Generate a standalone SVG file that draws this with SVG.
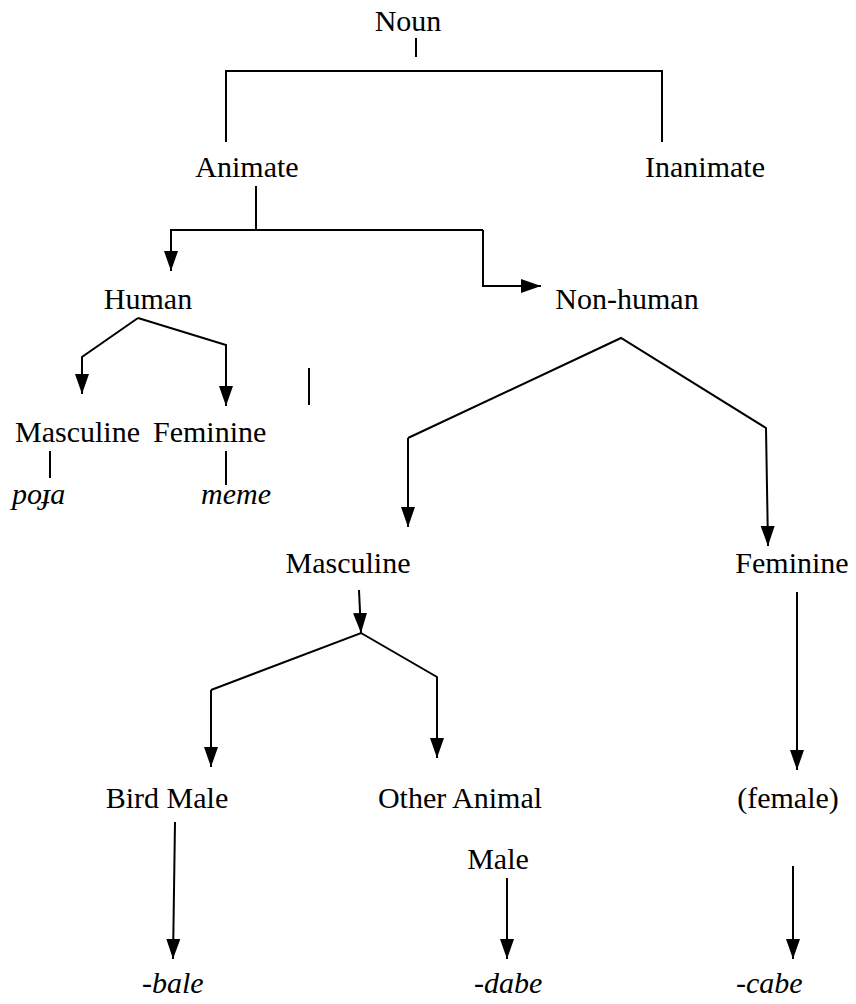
<svg xmlns="http://www.w3.org/2000/svg" width="856" height="1004" viewBox="0 0 856 1004">
<defs>
<marker id="ah" markerUnits="userSpaceOnUse" markerWidth="22" markerHeight="16" refX="20" refY="7" orient="auto">
<path d="M0,0 L20,7 L0,14 Z" fill="#000"/>
</marker>
</defs>
<rect width="856" height="1004" fill="#fff"/>
<g id="connectors" fill="none" stroke="#000" stroke-width="2">
<path d="M416,38 V57"/>
<path d="M226,142 V71 H662 V142"/>
<path d="M256,186 V230"/>
<path d="M483,230 H171 V271" marker-end="url(#ah)"/>
<path d="M483,230 V286 H541" marker-end="url(#ah)"/>
<path d="M138,318 L82,357 V394" marker-end="url(#ah)"/>
<path d="M138,318 L226,345 V406" marker-end="url(#ah)"/>
<path d="M309,368 V405"/>
<path d="M50,451 V478"/>
<path d="M226,451 V485"/>
<path d="M408,438 L621,338 L766,428 L768,546" marker-end="url(#ah)"/>
<path d="M408,438 V527" marker-end="url(#ah)"/>
<path d="M359,590 L361,633" marker-end="url(#ah)"/>
<path d="M211,690 L361,633 L437,677 V758" marker-end="url(#ah)"/>
<path d="M211,690 V767" marker-end="url(#ah)"/>
<path d="M797,592 V770" marker-end="url(#ah)"/>
<path d="M175,822 L173,959" marker-end="url(#ah)"/>
<path d="M507,878 V959" marker-end="url(#ah)"/>
<path d="M793,866 V959" marker-end="url(#ah)"/>
</g>
<g id="noun"><text x="408" y="31" font-family="Liberation Serif" font-size="30" text-anchor="middle">Noun</text></g>
<g id="animate"><text x="247" y="177" font-family="Liberation Serif" font-size="30" text-anchor="middle">Animate</text></g>
<g id="inanimate"><text x="705" y="177" font-family="Liberation Serif" font-size="30" text-anchor="middle">Inanimate</text></g>
<g id="human"><text x="148" y="309" font-family="Liberation Serif" font-size="30" text-anchor="middle">Human</text></g>
<g id="nonhuman"><text x="627" y="309" font-family="Liberation Serif" font-size="30" text-anchor="middle">Non-human</text></g>
<g id="h-masculine"><text x="15" y="442" font-family="Liberation Serif" font-size="30">Masculine</text></g>
<g id="h-feminine"><text x="153" y="442" font-family="Liberation Serif" font-size="30">Feminine</text></g>
<g id="poja"><text x="12" y="504" font-family="Liberation Serif" font-size="30" font-style="italic">poɟa</text></g>
<g id="meme"><text x="201" y="504" font-family="Liberation Serif" font-size="30" font-style="italic">meme</text></g>
<g id="nh-masculine"><text x="348" y="573" font-family="Liberation Serif" font-size="30" text-anchor="middle">Masculine</text></g>
<g id="nh-feminine"><text x="792" y="573" font-family="Liberation Serif" font-size="30" text-anchor="middle">Feminine</text></g>
<g id="bird-male"><text x="167" y="808" font-family="Liberation Serif" font-size="30" text-anchor="middle">Bird Male</text></g>
<g id="other-animal"><text x="460" y="808" font-family="Liberation Serif" font-size="30" text-anchor="middle">Other Animal</text></g>
<g id="female"><text x="788" y="808" font-family="Liberation Serif" font-size="30" text-anchor="middle">(female)</text></g>
<g id="male"><text x="498" y="869" font-family="Liberation Serif" font-size="30" text-anchor="middle">Male</text></g>
<g id="bale"><text x="142" y="993" font-family="Liberation Serif" font-size="30" font-style="italic">-bale</text></g>
<g id="dabe"><text x="474" y="993" font-family="Liberation Serif" font-size="30" font-style="italic">-dabe</text></g>
<g id="cabe"><text x="736" y="993" font-family="Liberation Serif" font-size="30" font-style="italic">-cabe</text></g>
</svg>
